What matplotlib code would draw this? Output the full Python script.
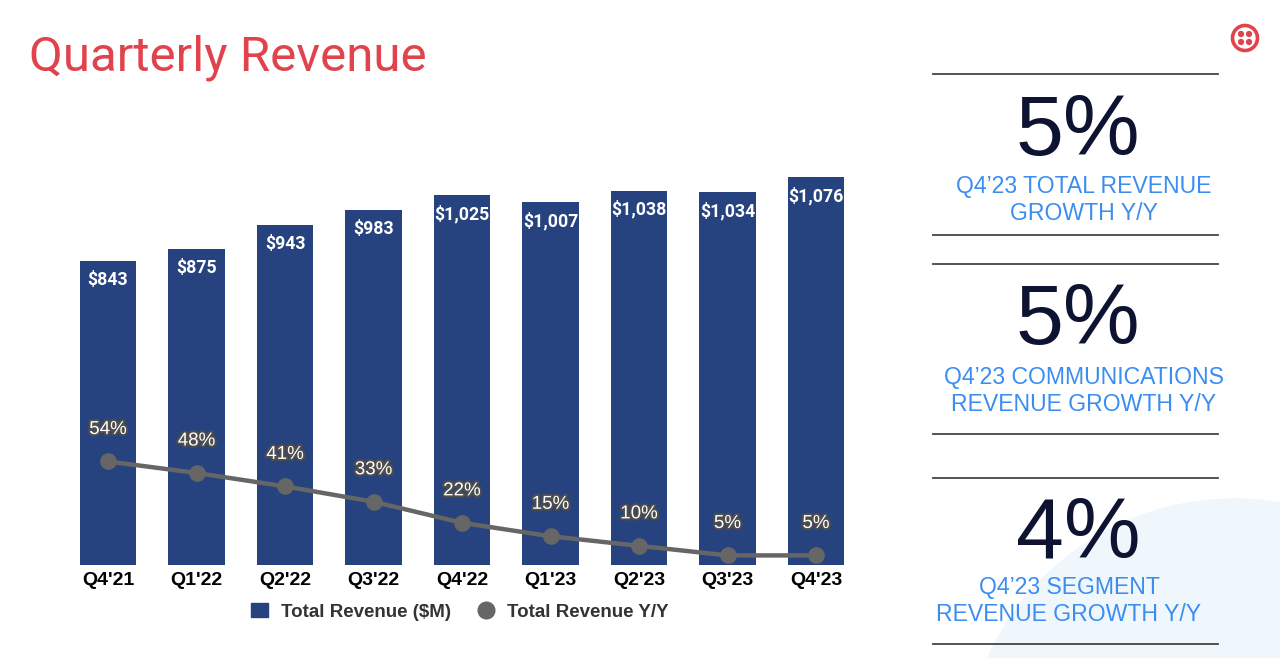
import matplotlib.pyplot as plt
import matplotlib.patheffects as pe
from matplotlib.patches import Circle
from matplotlib.lines import Line2D
from matplotlib.patches import Patch

quarters = ["Q4'21", "Q1'22", "Q2'22", "Q3'22", "Q4'22", "Q1'23", "Q2'23", "Q3'23", "Q4'23"]
revenue = [843, 875, 943, 983, 1025, 1007, 1038, 1034, 1076]
growth = [54, 48, 41, 33, 22, 15, 10, 5, 5]

kpi_values = ["5%", "5%", "4%"]
kpi_labels = ["Q4\u201923 TOTAL REVENUE\nGROWTH Y/Y",
              "Q4\u201923 COMMUNICATIONS\nREVENUE GROWTH Y/Y",
              "Q4\u201923 SEGMENT\nREVENUE GROWTH Y/Y"]

bar_color = "#26437f"
line_color = "#666666"
red = "#e0434c"
blue_txt = "#3b8df0"
navy = "#0d1330"

fig = plt.figure(figsize=(12.8, 6.58), dpi=100)

# background / decoration layer in pixel coordinates
bg = fig.add_axes([0, 0, 1, 1])
bg.set_xlim(0, 1280)
bg.set_ylim(658, 0)
bg.axis("off")
bg.add_patch(Circle((1234, 769), 270, color="#eff6fc", zorder=0))

bg.text(29, 58, "Quarterly Revenue", color=red, fontsize=35.5, family="Roboto",
        va="center", ha="left")

# logo
bg.add_patch(Circle((1245, 38), 12.5, fill=False, edgecolor=red, lw=2.6))
for dx in (-4, 4):
    for dy in (-4, 4):
        bg.add_patch(Circle((1245 + dx, 38 + dy), 2.4, color=red))

for y in (74, 235, 264, 434, 478, 644):
    bg.plot([933, 1218], [y, y], color="#444444", lw=1.3)

big_base = [155, 344, 558]
lab_y = [200, 391, 601]
lab_x = [1084, 1084, 1069]
for v, lab, by, ly, lx in zip(kpi_values, kpi_labels, big_base, lab_y, lab_x):
    bg.text(1078, by, v, fontsize=62, color=navy, family="Liberation Sans",
            ha="center", va="baseline")
    bg.text(lx, ly, lab, fontsize=16.6, color=blue_txt, family="Liberation Sans",
            ha="center", va="center", linespacing=1.25)

# chart
ax = fig.add_axes([63.75 / 1280, 93 / 658, 796.5 / 1280, 395 / 658])
ax.patch.set_alpha(0)
x = list(range(len(quarters)))
ax.bar(x, revenue, width=0.64, color=bar_color, zorder=2)
ax.set_xlim(-0.5, 8.5)
ax.set_ylim(0, 1095)
for xi, v in zip(x, revenue):
    ax.annotate(f"${v:,}", (xi, v), xytext=(0, -7), textcoords="offset points",
                ha="center", va="top", color="white", fontsize=12.8,
                fontweight="bold", family="Roboto", zorder=5)
ax.set_xticks(x)
ax.set_xticklabels(quarters, fontsize=14, fontweight="bold", family="Liberation Sans")
ax.tick_params(axis="x", length=0, pad=5)
ax.set_yticks([])
for s in ax.spines.values():
    s.set_visible(False)

ax2 = ax.twinx()
ax2.set_ylim(0, 206)
ax2.plot(x, growth, color=line_color, lw=3.2, marker="o", markersize=11, zorder=3)
for xi, g in zip(x, growth):
    ax2.annotate(f"{g}%", (xi, g), xytext=(0, 23), textcoords="offset points",
                 ha="center", va="center", color="white", fontsize=13.5,
                 family="Liberation Sans",
                 path_effects=[pe.withStroke(linewidth=3, foreground="#4d4d4d")])
ax2.set_yticks([])
for s in ax2.spines.values():
    s.set_visible(False)

handles = [Patch(color=bar_color, label="Total Revenue ($M)"),
           Line2D([], [], color=line_color, marker="o", lw=0, markersize=12,
                  label="Total Revenue Y/Y")]
fig.legend(handles=handles, loc="center", bbox_to_anchor=(460 / 1280, 1 - 612 / 658),
           ncol=2, frameon=False, handlelength=0.9, handletextpad=0.7, columnspacing=1.4,
           prop={"family": "Liberation Sans", "weight": "bold", "size": 13.5},
           labelcolor="#333333")

fig.savefig("out.png", dpi=100)
